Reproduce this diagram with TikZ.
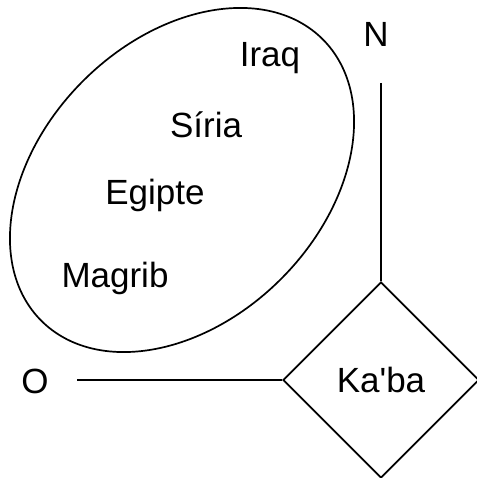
\documentclass[tikz,border=0pt]{standalone}
\usepackage{fontspec}
\setmainfont{Liberation Sans}
\usetikzlibrary{shapes.geometric}
\begin{document}
\begin{tikzpicture}[x=1pt,y=-1pt,
  lbl/.style={font=\fontsize{35}{38}\selectfont, inner sep=0pt},
  ln/.style={line width=1.7pt, black}]
\useasboundingbox (0,0) rectangle (476,478);
\node[ellipse, draw, line width=1.7pt, minimum width=398pt, minimum height=280pt,
      inner sep=0pt, rotate=45] (region) at (182,180) {};
\node[lbl] (iraq) at (270,58) {Iraq};
\node[lbl] (siria) at (206,125) {Síria};
\node[lbl] (egipte) at (155,195) {Egipte};
\node[lbl] (magrib) at (115,278) {Magrib};
\node[lbl] (nord) at (376,34) {N};
\node[lbl] (oest) at (35,381) {O};
\node[diamond, draw, line width=1.7pt, minimum width=196pt, minimum height=196pt,
      inner sep=0pt, font=\fontsize{35}{38}\selectfont] (kaba) at (381,380) {Ka\textquotesingle ba};
\coordinate (ntip) at (381,83);
\coordinate (otip) at (77,380);
\draw[ln] (ntip) -- (kaba.north);
\draw[ln] (otip) -- (kaba.west);
\end{tikzpicture}
\end{document}
